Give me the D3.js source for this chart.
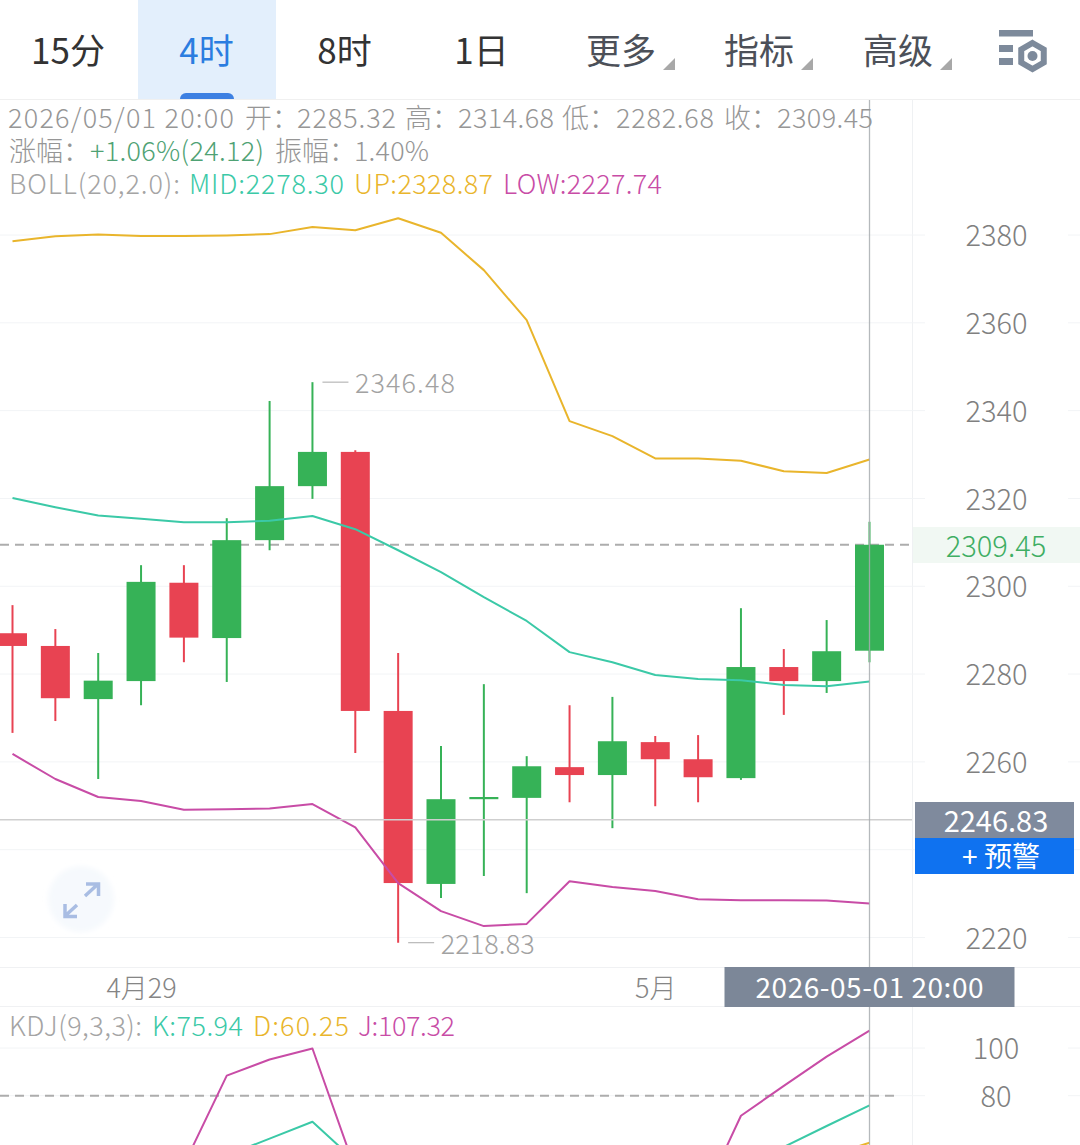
<!DOCTYPE html>
<html><head><meta charset="utf-8">
<script src="https://cdn.jsdelivr.net/npm/d3@7/dist/d3.min.js"></script>
<style>html,body{margin:0;padding:0;background:#fff;overflow:hidden}svg{display:block}
text{font-family:"Noto Sans CJK SC","Noto Sans",sans-serif;font-weight:300}</style>
</head><body><svg id="c" width="1080" height="1145"></svg>
<script>
// ---- data ----
const tabs = ["15分","4时","8时","1日","更多","指标","高级"];
const opens  = [2289.3,2286.4,2274.3,2278.4,2300.8,2288.2,2310.5,2322.8,2330.6,2271.6,2232.2,2251.5,2251.8,2258.8,2257,2264.5,2260.6,2256.3,2281.6,2278.4,2285.32];
const closes = [2286.4,2274.5,2278.5,2301,2288.3,2310.5,2322.8,2330.6,2271.6,2232.4,2251.5,2252,2259,2257,2264.7,2260.6,2256.5,2281.6,2278.4,2285.2,2309.45];
const highs  = [2295.7,2290.25,2284.8,2304.8,2304.8,2315.5,2342.2,2346.48,2331,2284.8,2263.6,2277.7,2261.3,2272.9,2274.8,2265.9,2266.1,2295,2285.7,2292.3,2314.68];
const lows   = [2266.6,2269.3,2256.1,2272.9,2282.7,2278.2,2308.2,2319.9,2262,2218.83,2229,2234,2230.1,2250.8,2244.9,2249.9,2250.8,2255.9,2270.7,2275.7,2282.68];
const bollUp  = [2378.6,2379.7,2380.1,2379.8,2379.8,2379.9,2380.2,2381.8,2381.1,2383.8,2380.5,2372,2360.6,2337.6,2334.2,2329.1,2329.1,2328.6,2326.2,2325.8,2328.87];
const bollMid = [2320.1,2318,2316.1,2315.4,2314.6,2314.6,2314.9,2316,2313,2308.2,2303.2,2297.5,2292.1,2285,2282.7,2279.8,2278.9,2278.6,2277.5,2277.2,2278.30];
const bollLow = [2261.8,2256.1,2252,2251.1,2249.1,2249.2,2249.4,2250.4,2245.1,2232.4,2226,2222.6,2223.1,2232.8,2231.5,2230.6,2228.7,2228.5,2228.5,2228.4,2227.74];
const kdjK = [null,null,null,null,null,55,62,69.1,52.6,null,null,null,null,null,null,null,null,49,58.5,67.3,75.94];
const kdjD = [null,null,null,null,null,null,null,null,null,null,null,null,null,null,null,null,null,null,null,54.7,60.25];
const kdjJ = [null,null,null,null,51,88.4,95.2,99.8,49,null,null,null,null,null,null,null,33,71.6,84.1,96.4,107.32];
const priceTicks = [2380,2360,2340,2320,2300,2280,2260,2240,2220];
const priceLabels = [2380,2360,2340,2320,2300,2280,2260,2220];
const kdjTicks = [100,80];
const timeTicks = [3,15];
const timeLabels = ["4月29","5月"];
const lastClose = 2309.45, crossPrice = 2246.83, crossIdx = 20, maxPrice = 2346.48, minPrice = 2218.83, kdjRef = 80;

// ---- colours ----
const GREEN="#36b257", RED="#e84352", TEAL="#3bc9a7", GOLD="#e9b52c", PINK="#c84ca6", GRAY="#969696", GRID="#f2f4f6";

const svg=d3.select("#c");
const defs=svg.append("defs");
defs.append("filter").attr("id","soft").append("feGaussianBlur").attr("stdDeviation",2.5);
const x=d3.scaleLinear().domain([0,20]).range([12.5,869.5]);
const y=d3.scaleLinear().domain([2380,2220]).range([235,937.5]);
const yk=d3.scaleLinear().domain([100,80]).range([1048,1095.7]);
const idx=d3.range(opens.length);

function label(g,s,px,py,size,fill,anchor,len){
  const t=g.append("text").attr("x",px).attr("y",py).attr("font-size",size).attr("fill",fill)
    .attr("text-anchor",anchor||"start").attr("dominant-baseline","central").text(s);
  if(len) t.attr("textLength",len).attr("lengthAdjust","spacing");
  return t;
}

// ---- header ----
const head=svg.append("g");
head.append("rect").attr("x",138).attr("y",0).attr("width",138).attr("height",99).attr("fill","#e3effc");
head.append("path").attr("d","M180,99a6,6 0 0 1 6,-6H228a6,6 0 0 1 6,6Z").attr("fill","#3d80e2");
const tabX=[68,206.5,344.5,481.5,621,759,898];
tabs.forEach((t,i)=>label(head,t,tabX[i],48,35,i===1?"#2b7de0":(i>3?"#4c5058":"#333"),"middle").style("font-weight",400));
[675,813,952].forEach(tx=>head.append("path").attr("d",`M${tx},58V70H${tx-12}Z`).attr("fill","#a8a8a8"));
const ic="#7d8a9b";
head.append("rect").attr("x",999).attr("y",30).attr("width",34).attr("height",6.5).attr("fill",ic);
head.append("rect").attr("x",999).attr("y",45).attr("width",14).attr("height",7).attr("fill",ic);
head.append("rect").attr("x",999).attr("y",58).attr("width",14).attr("height",7).attr("fill",ic);
const hex=d3.range(6).map(i=>{const a=Math.PI/3*i-Math.PI/2;return [1032.5+13*Math.cos(a),56+13*Math.sin(a)];});
head.append("path").attr("d","M"+hex.join("L")+"Z").attr("fill","none").attr("stroke",ic).attr("stroke-width",6);
head.append("circle").attr("cx",1032.5).attr("cy",56).attr("r",5).attr("fill",ic);
svg.append("line").attr("x1",0).attr("x2",1080).attr("y1",99.5).attr("y2",99.5).attr("stroke","#f0f0f0");

// ---- frame and grid ----
const frame=svg.append("g");
frame.append("rect").attr("x",912).attr("y",527).attr("width",168).attr("height",36).attr("fill","#f1f8f3");
frame.append("line").attr("x1",912.5).attr("x2",912.5).attr("y1",99).attr("y2",1145).attr("stroke","#eff1f3");
[967,1006].forEach(v=>frame.append("line").attr("x1",0).attr("x2",1080).attr("y1",v+.5).attr("y2",v+.5).attr("stroke","#f0f1f3"));
function grid(scale,ticks){
  ticks.forEach(t=>{
    frame.append("line").attr("x1",0).attr("x2",925).attr("y1",scale(t)).attr("y2",scale(t)).attr("stroke",GRID);
    frame.append("line").attr("x1",1068).attr("x2",1080).attr("y1",scale(t)).attr("y2",scale(t)).attr("stroke",GRID);
  });
}
grid(y,priceTicks); grid(yk,kdjTicks);

// ---- axes ----
const tickStyle=(g,size,fill)=>{g.select(".domain").remove();g.selectAll("line").remove();
  g.selectAll("text").attr("font-size",size).attr("fill",fill).attr("text-anchor","middle").attr("x",0).attr("dy",".37em");};
svg.append("g").attr("transform","translate(996.5,0)")
  .call(d3.axisRight(y).tickValues(priceLabels).tickFormat(d3.format("d")).tickSize(0))
  .call(g=>tickStyle(g,29,"#808080"));
svg.append("g").attr("transform","translate(996,0)")
  .call(d3.axisRight(yk).tickValues(kdjTicks).tickFormat(d3.format("d")).tickSize(0))
  .call(g=>tickStyle(g,29,"#808080"));
svg.append("g").attr("transform","translate(0,988.5)")
  .call(d3.axisBottom(x).tickValues(timeTicks).tickFormat((d,i)=>timeLabels[i]).tickSize(0))
  .call(g=>{g.select(".domain").remove();g.selectAll("line").remove();
    g.selectAll("text").attr("y",0).attr("dy",".35em").attr("font-size",27).attr("fill","#858585");});

// ---- reference lines ----
svg.append("line").attr("x1",0).attr("x2",912).attr("y1",y(lastClose)).attr("y2",y(lastClose)).attr("stroke","#adadad").attr("stroke-width",2).attr("stroke-dasharray","9 6");
svg.append("line").attr("x1",0).attr("x2",898).attr("y1",yk(kdjRef)).attr("y2",yk(kdjRef)).attr("stroke","#adadad").attr("stroke-width",2).attr("stroke-dasharray","9 6");

// ---- candles ----
const bw=29;
const cg=svg.append("g");
cg.selectAll("line.w").data(idx).join("line").attr("class","w")
  .attr("x1",i=>x(i)).attr("x2",i=>x(i)).attr("y1",i=>y(highs[i])).attr("y2",i=>y(lows[i]))
  .attr("stroke",i=>closes[i]>=opens[i]?GREEN:RED).attr("stroke-width",2);
cg.selectAll("rect").data(idx).join("rect")
  .attr("x",i=>x(i)-bw/2).attr("width",bw)
  .attr("y",i=>y(Math.max(opens[i],closes[i])))
  .attr("height",i=>Math.max(2,Math.abs(y(opens[i])-y(closes[i]))))
  .attr("fill",i=>closes[i]>=opens[i]?GREEN:RED);

// ---- indicator lines ----
function series(vals,sc,color){
  const ln=d3.line().defined(i=>vals[i]!==null).x(i=>x(i)).y(i=>sc(vals[i]));
  svg.append("path").attr("d",ln(idx)).attr("fill","none").attr("stroke",color).attr("stroke-width",2).attr("stroke-linejoin","round");
}
series(bollUp,y,GOLD); series(bollMid,y,TEAL); series(bollLow,y,PINK);
series(kdjK,yk,TEAL); series(kdjD,yk,GOLD); series(kdjJ,yk,PINK);

// ---- extreme markers ----
const mk=svg.append("g");
[[7,maxPrice,100],[9,minPrice,94]].forEach(([i,p,w])=>{
  mk.append("line").attr("x1",x(i)+10).attr("x2",x(i)+36).attr("y1",y(p)).attr("y2",y(p)).attr("stroke","#bdbdbd").attr("stroke-width",1.3);
  label(mk,p.toFixed(2),x(i)+42.5,y(p)-0.5,27,"#a2a2a2","start",w);
});

// ---- expand icon ----
const ex=svg.append("g");
ex.append("circle").attr("cx",81).attr("cy",899).attr("r",33).attr("fill","#f6f9fd").attr("filter","url(#soft)");
ex.append("path").attr("d","M85,896L98,884M86,884H98.5V896M77,905L65,916M65,904V916.5H77").attr("fill","none").attr("stroke","#a9bde3").attr("stroke-width",3.5);

// ---- crosshair ----
svg.append("line").attr("x1",0).attr("x2",912).attr("y1",y(crossPrice)).attr("y2",y(crossPrice)).attr("stroke","#cfcfcf").attr("stroke-width",1.5);
svg.append("line").attr("x1",x(crossIdx)).attr("x2",x(crossIdx)).attr("y1",100).attr("y2",1145).attr("stroke","#a9adb1").attr("stroke-width",1.3).attr("opacity",.85);

// ---- info lines ----
const info=svg.append("g");
[["2026/05/01 20:00",8,GRAY,226],["开：",245,GRAY],["2285.32",297,GRAY,99],["高：",405,GRAY],["2314.68",458,GRAY,96],["低：",562,GRAY],["2282.68",616,GRAY,98],["收：",724,GRAY],["2309.45",777,GRAY,96]]
  .forEach(d=>label(info,d[0],d[1],116,27,d[2],"start",d[3]));
[["涨幅：",9,GRAY],["+1.06%(24.12)",90,"#4fa274",174],["振幅：",275,GRAY],["1.40%",354,GRAY,75]]
  .forEach(d=>label(info,d[0],d[1],149,27,d[2],"start",d[3]));
[["BOLL(20,2.0):",9,"#a4a4a4",171],["MID:2278.30",189,TEAL,155],["UP:2328.87",354,GOLD,139],["LOW:2227.74",503,PINK,159]]
  .forEach(d=>label(info,d[0],d[1],182,27,d[2],"start",d[3]));
[["KDJ(9,3,3):",9,"#a4a4a4",133],["K:75.94",152,TEAL,91],["D:60.25",253,GOLD,96],["J:107.32",358,PINK,97]]
  .forEach(d=>label(info,d[0],d[1],1024,27,d[2],"start",d[3]));

// ---- tags ----
const tags=svg.append("g");
label(tags,lastClose.toFixed(2),996,544,29,"#3fae63","middle");
tags.append("rect").attr("x",915).attr("y",802).attr("width",159).attr("height",36).attr("fill","#7f8a9d");
label(tags,crossPrice.toFixed(2),996,819,29,"#fff","middle").style("font-weight",400);
tags.append("rect").attr("x",915).attr("y",838).attr("width",159).attr("height",36).attr("fill","#0f72f0");
label(tags,"+ 预警",1001,855,28,"#fff","middle").style("font-weight",400);
tags.append("rect").attr("x",724.5).attr("y",967).attr("width",290).attr("height",40).attr("fill","#7c8798");
label(tags,"2026-05-01 20:00",869.5,986,28,"#fff","middle",228).style("font-weight",400);
</script></body></html>
